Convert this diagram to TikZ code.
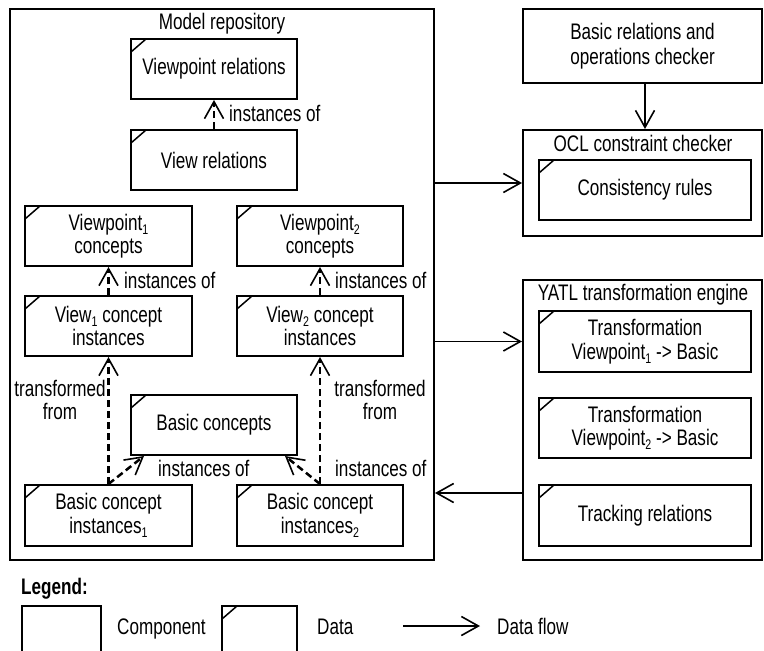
\documentclass[tikz,border=0pt]{standalone}
\usepackage{fontspec}
\setmainfont{Liberation Sans}[FakeStretch=0.76]
\usetikzlibrary{arrows.meta}

% lowered index digit, as in "Viewpoint 1"
\newcommand\idx[1]{\raisebox{-4pt}{\fontsize{14}{14}\selectfont #1}}

\tikzset{
  base/.style={font=\fontsize{22.5}{23.5}\selectfont},
  component/.style={draw, line width=2pt, inner sep=0pt, align=center, base},
  datum/.style={component,
    path picture={\draw[line width=1.5pt]
      ([yshift=-13pt]path picture bounding box.north west) -- ++(15pt,13pt);}},
  lbl/.style={base, inner sep=0pt, align=center},
  tip/.style={-{Straight Barb[length=17pt,width=19pt,line width=1.6pt]}},
  flow/.style={tip, line width=1.6pt},
  relation/.style={tip, line width=2.5pt, dash pattern=on 7pt off 4pt},
}

\begin{document}
\begin{tikzpicture}[x=1pt, y=-1pt]
\useasboundingbox (0,0) rectangle (764,651);
\clip (0,0) rectangle (764,651);

% model repository and its contents
\node[component, minimum width=424pt, minimum height=551pt] (repo) at (222,284.5) {};
\node[lbl] (repotitle) at (222,24) {Model repository};

\node[datum, minimum width=166pt, minimum height=60pt] (vprel) at (214,69) {Viewpoint relations};
\node[datum, minimum width=166pt, minimum height=60pt] (vrel) at (214,160) {View relations};

\node[datum, minimum width=167pt, minimum height=60pt] (vp1) at (108.5,236) {Viewpoint\idx{1}\\concepts};
\node[datum, minimum width=166pt, minimum height=60pt] (vp2) at (320,236) {Viewpoint\idx{2}\\concepts};

\node[datum, minimum width=167pt, minimum height=60pt] (v1) at (108.5,326) {View\idx{1} concept\\instances};
\node[datum, minimum width=166pt, minimum height=60pt] (v2) at (320,326) {View\idx{2} concept\\instances};

\node[datum, minimum width=166pt, minimum height=60pt] (basic) at (214,425) {Basic concepts};

\node[datum, minimum width=167pt, minimum height=61pt] (bi1) at (108.5,515.5) {Basic concept\\instances\idx{1}};
\node[datum, minimum width=166pt, minimum height=61pt] (bi2) at (320,515.5) {Basic concept\\instances\idx{2}};

% relations inside the repository
\draw[relation] (vrel.north) -- (vprel.south);
\draw[relation] (v1.north) -- (vp1.south);
\draw[relation] (v2.north) -- (vp2.south);
\draw[relation] (bi1.north) -- (v1.south);
\draw[relation] (bi2.north) -- (v2.south);
\draw[relation] (bi1.north) -- ([xshift=14pt]basic.south west);
\draw[relation] (bi2.north) -- ([xshift=-13pt]basic.south east);

\node[lbl, anchor=west] (l1) at (229,113) {instances of};
\node[lbl, anchor=west] (l2) at (124,280) {instances of};
\node[lbl, anchor=west] (l3) at (335,280) {instances of};
\node[lbl] (l4) at (60,400) {transformed\\from};
\node[lbl] (l5) at (380,400) {transformed\\from};
\node[lbl, anchor=west] (l6) at (158,468) {instances of};
\node[lbl, anchor=west] (l7) at (335,468) {instances of};

% checkers
\node[component, minimum width=239pt, minimum height=74pt, font=\fontsize{22.5}{25.5}\selectfont] (checker) at (642.5,46) {Basic relations and\\operations checker};
\node[component, minimum width=239pt, minimum height=106pt] (ocl) at (642.5,183) {};
\node[lbl] (ocltitle) at (643,143) {OCL constraint checker};
\node[datum, minimum width=212pt, minimum height=60pt] (rules) at (645,190) {Consistency rules};

% transformation engine
\node[component, minimum width=239pt, minimum height=280pt] (yatl) at (642.5,420) {};
\node[lbl] (yatltitle) at (643,295) {YATL transformation engine};
\node[datum, minimum width=212pt, minimum height=61pt] (t1) at (645,341.5) {Transformation\\Viewpoint\idx{1} -> Basic};
\node[datum, minimum width=212pt, minimum height=60pt] (t2) at (645,428) {Transformation\\Viewpoint\idx{2} -> Basic};
\node[datum, minimum width=212pt, minimum height=61pt] (track) at (645,515.5) {Tracking relations};

% data flows between components
\coordinate (back) at (0,493);
\draw[flow] (checker.south -| rules.center) -- (ocl.north -| rules.center);
\draw[flow] (repo.east |- ocl.west) -- (ocl.west);
\draw[flow] (repo.east |- t1.west) -- (yatl.west |- t1.west);
\draw[flow] (yatl.west |- back) -- (repo.east |- back);

% legend
\node[lbl, anchor=base west, font=\fontsize{22.5}{23.5}\selectfont\bfseries] (legend) at (21,594) {Legend:};
\node[component, minimum width=79pt, minimum height=64pt] (lgcomp) at (61.5,638) {};
\node[lbl, anchor=base west] (lgcomptext) at (117,634) {Component};
\node[datum, minimum width=75pt, minimum height=64pt] (lgdata) at (259.5,638) {};
\node[lbl, anchor=base west] (lgdatatext) at (317,634) {Data};
\coordinate (lgstart) at (403,626);
\coordinate (lgend) at (480,626);
\node[lbl, anchor=base west] (lgflowtext) at (497,634) {Data flow};
\draw[flow] (lgstart) -- (lgend);
\end{tikzpicture}
\end{document}
